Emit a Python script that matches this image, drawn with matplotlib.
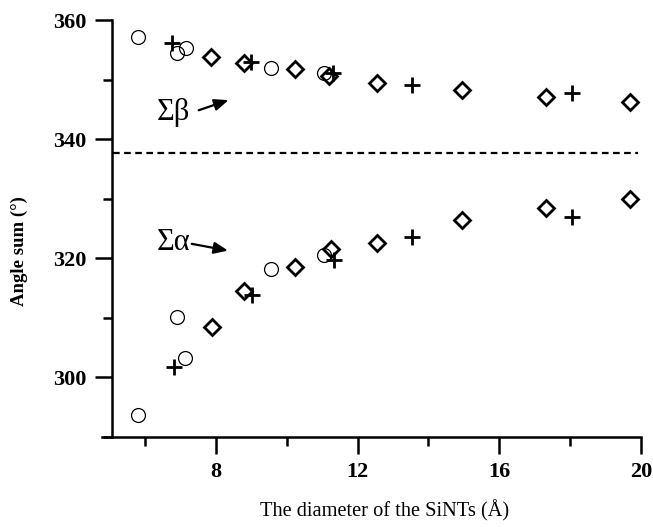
import numpy as np
import matplotlib.pyplot as plt
from matplotlib.ticker import MultipleLocator

plt.rcParams['font.family'] = ['Liberation Serif', 'DejaVu Serif']

# circles (upper branch = sum beta, lower = sum alpha)
circ_x = [5.80, 6.90, 7.15, 9.55, 11.05]
circ_beta = [357.1, 354.5, 355.3, 351.9, 351.1]
circ_x_lo = [5.80, 6.90, 7.12, 9.55, 11.05]
circ_alpha = [293.6, 310.1, 303.2, 318.2, 320.5]

# crosses
plus_x = [6.76, 9.00, 11.30, 13.54, 18.06]
plus_beta = [356.1, 353.0, 351.1, 349.1, 347.7]
plus_x_lo = [6.81, 9.02, 11.33, 13.54, 18.06]
plus_alpha = [301.7, 313.8, 319.7, 323.5, 326.9]

# diamonds
dia_x = [7.86, 8.79, 10.23, 11.19, 12.55, 14.95, 17.32, 19.69]
dia_beta = [353.8, 352.8, 351.8, 350.6, 349.4, 348.2, 347.1, 346.2]
dia_x_lo = [7.89, 8.79, 10.23, 11.25, 12.55, 14.95, 17.32, 19.69]
dia_alpha = [308.4, 314.5, 318.5, 321.5, 322.5, 326.4, 328.4, 329.9]

ref_line = 337.7

fig = plt.figure(figsize=(6.53, 5.27), dpi=100)
ax = fig.add_axes([0.156, 0.171, 0.8254, 0.791])

ax.plot(circ_x, circ_beta, 'o', mfc='none', mec='k', ms=10, mew=0.9)
ax.plot(circ_x_lo, circ_alpha, 'o', mfc='none', mec='k', ms=10, mew=0.9)
ax.plot(dia_x, dia_beta, 'D', mfc='none', mec='k', ms=8, mew=2)
ax.plot(dia_x_lo, dia_alpha, 'D', mfc='none', mec='k', ms=8, mew=2)
ax.plot(plus_x, plus_beta, '+', color='k', ms=12, mew=2)
ax.plot(plus_x_lo, plus_alpha, '+', color='k', ms=12, mew=2)

ax.axhline(ref_line, xmin=0.02, xmax=0.995, color='k', ls=(0, (3, 2)), lw=1.6)

arrow = dict(arrowstyle='-|>,head_length=0.6,head_width=0.25', color='k', lw=1.6, mutation_scale=14)
ax.annotate('', xy=(8.43, 346.7), xytext=(7.44, 344.7), arrowprops=arrow)
ax.text(6.33, 344.4, 'Σβ', fontsize=22, va='center', ha='left')
ax.annotate('', xy=(8.42, 321.2), xytext=(7.24, 322.5), arrowprops=arrow)
ax.text(6.33, 322.7, 'Σα', fontsize=22, va='center', ha='left')

ax.set_xlim(4.78, 20)
ax.set_ylim(290, 360)
ax.spines['top'].set_visible(False)
ax.spines['right'].set_visible(False)
ax.spines['left'].set_position(('data', 5.06))
for s in ('left', 'bottom'):
    ax.spines[s].set_linewidth(1.8)

ax.xaxis.set_minor_locator(MultipleLocator(2))
ax.set_xticks([8, 12, 16, 20])
ax.yaxis.set_minor_locator(MultipleLocator(10))
ax.set_yticks([300, 320, 340, 360])
ax.tick_params(which='major', direction='out', length=12, width=1.8, labelsize=16, pad=6)
ax.tick_params(which='minor', direction='out', length=6.5, width=1.8)
for lab in ax.get_xticklabels() + ax.get_yticklabels():
    lab.set_fontweight('bold')

ax.set_xlabel('The diameter of the SiNTs (Å)', fontsize=14.7, labelpad=13)
ax.xaxis.label.set_x(0.525)
ax.set_ylabel('Angle sum (°)', fontsize=13.5, fontweight='bold')
ax.yaxis.set_label_coords(-0.137, 0.446)

fig.savefig('out.png', dpi=100)
